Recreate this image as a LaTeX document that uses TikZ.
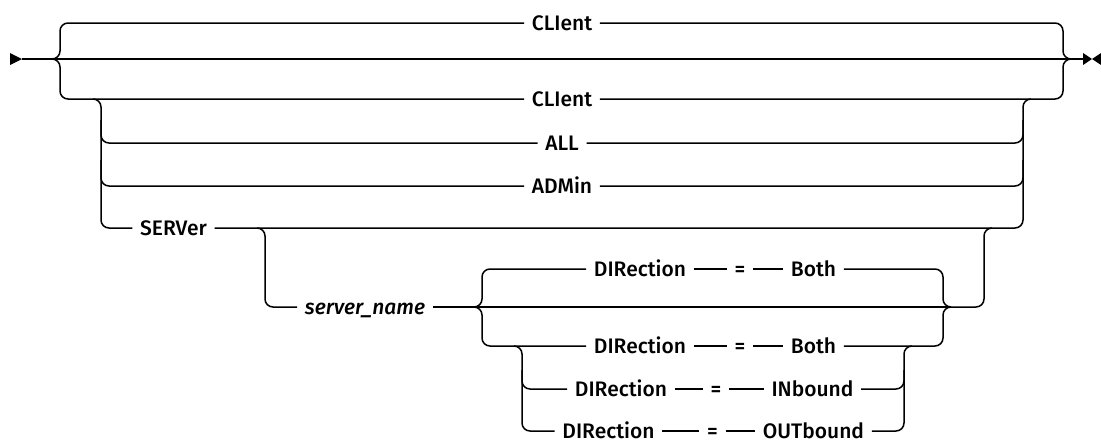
\documentclass[tikz,border=0pt]{standalone}
\usepackage{fontspec}
\setmainfont{Fira Sans}[UprightFont=* Medium, ItalicFont=* Medium Italic]
\begin{document}
\begin{tikzpicture}[x=1pt, y=-1pt, line width=1.5pt,
    rail/.style={rounded corners=8pt},
    kw/.style={inner xsep=7pt, inner ysep=0pt, text height=14.4pt, text depth=0pt,
        font=\fontsize{21}{24}\selectfont},
    var/.style={kw, font=\fontsize{21}{24}\selectfont\itshape}]
    \useasboundingbox (0,0) rectangle (1101,440);
    % Entry and exit marks
    \coordinate (start) at (22,59);
    \coordinate (stop) at (1083,59);
    \fill (10,53) -- (start) -- (10,65) -- cycle;
    \fill (1083,53) -- (1092,59) -- (1083,65) -- cycle;
    \fill (1101,53) -- (1092,59) -- (1101,65) -- cycle;
    \draw (start) -- (stop);
    % First choice
    \coordinate (in) at (52,59);
    \coordinate (out) at (1071,59);
    \node[kw] (cla) at (562,23) {CLIent};
    \node[kw] (clb) at (562,99) {CLIent};
    \draw[rail] (in) -| (60,23) -- (cla.west);
    \draw[rail] (cla.east) -| (1063,59) -- (out);
    \draw[rail] (in) -| (60,99) -- (clb.west);
    \draw[rail] (clb.east) -| (1063,59) -- (out);
    % Second choice
    \coordinate (split) at (93,99);
    \coordinate (merge) at (1031,99);
    \node[kw] (all) at (562,143) {ALL};
    \node[kw] (adm) at (562,186) {ADMin};
    \node[kw] (srv) at (173.5,228) {SERVer};
    \draw[rail] (split) -| (101,228) -- (srv.west);
    \draw[rail] (101,120) |- (all.west);
    \draw[rail] (101,160) |- (adm.west);
    \draw[rail] (all.east) -| (1023,120);
    \draw[rail] (adm.east) -| (1023,160);
    \draw[rail] (srv.east) -| (1023,99) -- (merge);
    % Server name
    \coordinate (nsplit) at (257,228);
    \coordinate (nmerge) at (992,228);
    \node[var] (sname) at (365,307) {server\_name};
    \coordinate (sin) at (474,307);
    \coordinate (sout) at (951,307);
    \draw[rail] (nsplit) -| (265,307) -- (sname.west);
    \draw (sname.east) -- (sout);
    \draw[rail] (sout) -| (984,228) -- (nmerge);
    % Third choice
    \node[kw] (dira) at (640,269) {DIRection};
    \node[kw] (eqa) at (740,269) {=};
    \node[kw] (botha) at (813.5,269) {Both};
    \draw[rail] (sin) -| (482,269) -- (dira.west);
    \draw (dira) -- (eqa);
    \draw (eqa) -- (botha);
    \draw[rail] (botha.east) -| (943,307) -- (sout);
    \node[kw] (dirb) at (640,346) {DIRection};
    \node[kw] (eqb) at (740,346) {=};
    \node[kw] (bothb) at (813.5,346) {Both};
    \draw[rail] (sin) -| (482,346) -- (dirb.west);
    \draw (dirb) -- (eqb);
    \draw (eqb) -- (bothb);
    \draw[rail] (bothb.east) -| (943,307) -- (sout);
    % Fourth choice
    \coordinate (dsplit) at (514,346);
    \coordinate (dmerge) at (912,346);
    \node[kw] (dirc) at (621,389) {DIRection};
    \node[kw] (eqc) at (716,389) {=};
    \node[kw] (inb) at (812.5,389) {INbound};
    \node[kw] (dird) at (608.5,431) {DIRection};
    \node[kw] (eqd) at (712.5,431) {=};
    \node[kw] (outb) at (813.5,431) {OUTbound};
    \draw[rail] (dsplit) -| (522,431) -- (dird.west);
    \draw[rail] (522,370) |- (dirc.west);
    \draw (dirc) -- (eqc);
    \draw (eqc) -- (inb);
    \draw (dird) -- (eqd);
    \draw (eqd) -- (outb);
    \draw[rail] (outb.east) -| (904,346) -- (dmerge);
    \draw[rail] (inb.east) -| (904,370);
\end{tikzpicture}
\end{document}
